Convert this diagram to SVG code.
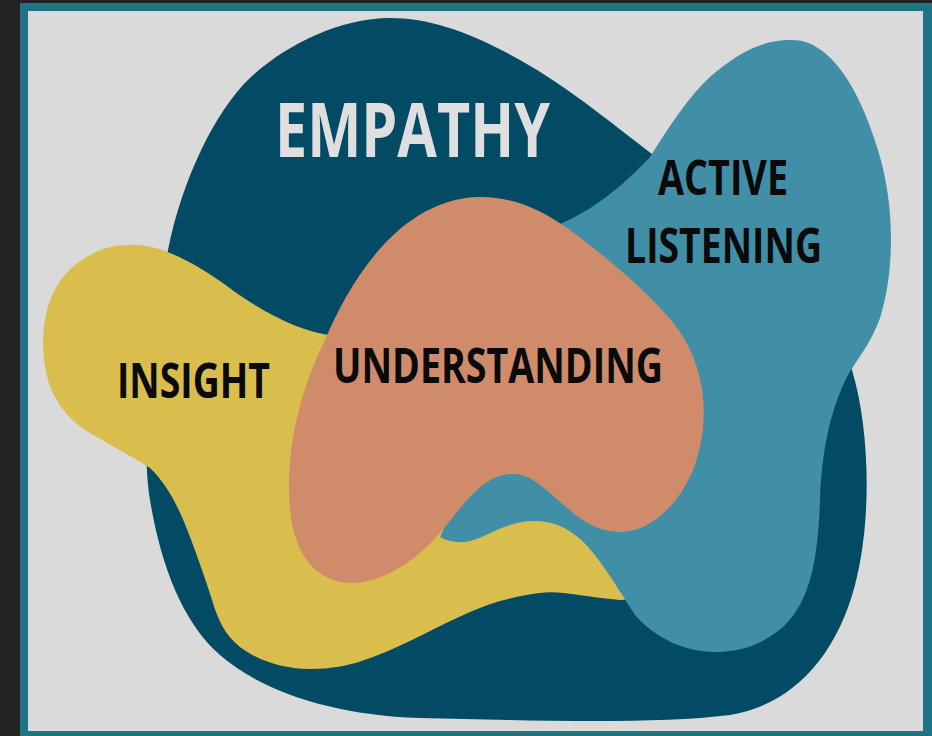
<svg xmlns="http://www.w3.org/2000/svg" width="932" height="736" viewBox="0 0 932 736">
<style>
.lbl{font-family:"Open Sans","Liberation Sans",sans-serif;font-weight:700;}
.dark{fill:#0a0a0a;font-size:48px;}
.light{fill:#dfdfdf;font-size:76px;}
</style>
<rect id="backdrop" x="0" y="0" width="932" height="736" fill="#232323"/>
<rect id="frame" x="20" y="3" width="912" height="733" fill="#1e7486"/>
<rect id="canvas" x="28" y="11" width="895" height="720" fill="#dadada"/>
<g id="empathy">
<path fill="#034a64" d="M390,18 C430,18 470,32 520,60 C570,88 620,130 660,160 C740,220 830,300 852,370 C870,430 872,520 855,585 C835,660 790,705 730,715 C650,725 520,720 420,718 C330,715 260,690 220,655 C180,620 160,560 150,500 C140,440 152,330 168,250 C182,180 215,111 250,78 C285,45 340,18 390,18 Z"/>
<text class="lbl light" x="275" y="157" textLength="275" lengthAdjust="spacingAndGlyphs">EMPATHY</text>
</g>
<g id="insight">
<path fill="#d9be4e" d="M130,245 C160,243 200,265 235,292 C265,313 300,332 335,336 L450,330 L600,420 L650,560 L660,598 L620,600 C590,598 560,590 540,593 C515,596 490,603 470,612 C440,625 405,645 373,657 C350,666 330,669 310,669 C285,669 260,662 240,647 C225,635 218,620 212,600 C205,578 198,558 190,537 C180,510 168,485 150,468 C130,455 110,445 90,433 C65,418 48,395 44,360 C40,320 50,285 75,265 C95,250 110,245 130,245 Z"/>
<text class="lbl dark" x="117" y="398" textLength="153" lengthAdjust="spacingAndGlyphs">INSIGHT</text>
</g>
<g id="active-listening">
<path fill="#418fa7" d="M790,40 C830,38 860,90 878,150 C895,205 895,270 880,318 C870,345 858,358 848,375 C830,410 822,450 820,500 C818,560 810,600 785,625 C760,648 735,652 715,652 C685,652 655,638 635,615 C625,600 612,578 600,562 C585,540 565,522 537,521 C505,520 485,540 465,542 C455,543 445,540 440,537 L470,470 L520,300 L540,232 C575,220 610,200 650,157 C670,125 690,95 710,77 C735,55 760,40 790,40 Z"/>
<text class="lbl dark" x="658" y="195" textLength="130" lengthAdjust="spacingAndGlyphs">ACTIVE</text>
<text class="lbl dark" x="625" y="263" textLength="197" lengthAdjust="spacingAndGlyphs">LISTENING</text>
</g>
<g id="understanding">
<path fill="#d08c6a" d="M477,197 C510,196 540,208 570,230 C610,260 665,305 685,340 C705,375 710,420 695,465 C680,505 650,532 620,532 C590,532 570,510 550,493 C535,480 525,473 510,474 C480,476 460,510 440,533 C420,556 390,580 355,583 C320,584 295,560 290,510 C285,450 300,390 325,340 C350,280 400,200 477,197 Z"/>
<text class="lbl dark" x="333" y="383" textLength="330" lengthAdjust="spacingAndGlyphs">UNDERSTANDING</text>
</g>
</svg>
